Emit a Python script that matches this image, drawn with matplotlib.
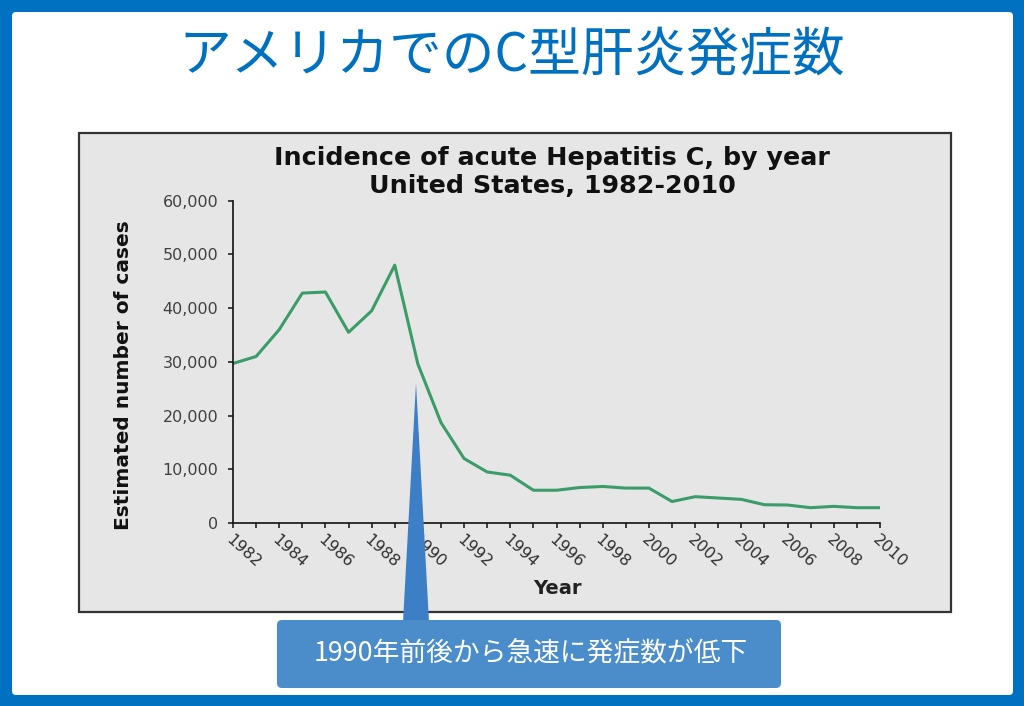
import matplotlib
matplotlib.use("Agg")
import matplotlib.pyplot as plt
from matplotlib.patches import Rectangle, FancyBboxPatch, Polygon
from matplotlib.ticker import FuncFormatter

# ---- data ----
years = list(range(1982, 2011))
cases = [29700, 31000, 36000, 42800, 43000, 35500, 39500, 48000, 29600, 18700,
         12000, 9500, 8900, 6100, 6100, 6600, 6800, 6500, 6500, 4000,
         4900, 4650, 4400, 3400, 3350, 2850, 3100, 2850, 2850]
y_ticks = [0, 10000, 20000, 30000, 40000, 50000, 60000]
slide_title = "アメリカでのC型肝炎発症数"
chart_title = "Incidence of acute Hepatitis C, by year\nUnited States, 1982-2010"
x_label = "Year"
y_label = "Estimated number of cases"
callout = "1990年前後から急速に発症数が低下"

W, H = 1024, 706
BLUE = "#0070c0"
fig = plt.figure(figsize=(W / 100, H / 100), dpi=100)

# background overlay in pixel coordinates
bg = fig.add_axes([0, 0, 1, 1], zorder=0)
bg.set_xlim(0, W)
bg.set_ylim(H, 0)
bg.axis("off")
bg.add_patch(Rectangle((0, 0), W, H, facecolor=BLUE, edgecolor="none"))
bg.add_patch(FancyBboxPatch((12, 12), 1001, 683, boxstyle="round,pad=0,rounding_size=4",
                            facecolor="white", edgecolor="none"))
bg.add_patch(Rectangle((79, 133), 872, 479, facecolor="#e6e6e6", edgecolor="#333333", linewidth=1.6))
bg.text(512, 55, slide_title, color=BLUE, fontsize=38, ha="center", va="center",
        family=["Noto Sans CJK JP", "DejaVu Sans"])
bg.text(552, 172, chart_title, color="#111111", fontsize=18.3, fontweight="bold",
        ha="center", va="center", linespacing=1.25, family="DejaVu Sans")

# chart axes
left, right = 233 / W, 880 / W
bottom, top = (H - 523) / H, (H - 200.7) / H
ax = fig.add_axes([left, bottom, right - left, top - bottom], zorder=2)
ax.patch.set_alpha(0)
ax.plot(years, cases, color="#3a9c68", linewidth=2.2, solid_joinstyle="round")
ax.set_xlim(1982, 2010)
ax.set_ylim(0, 60000)
ax.set_yticks(y_ticks)
ax.yaxis.set_major_formatter(FuncFormatter(lambda v, p: f"{int(v):,}"))
ax.set_xticks(years)
ax.set_xticklabels([str(y) if y % 2 == 0 else "" for y in years],
                   rotation=-42, ha="left", va="top", rotation_mode="anchor")
for s in ("top", "right"):
    ax.spines[s].set_visible(False)
for s in ("left", "bottom"):
    ax.spines[s].set_linewidth(1.2)
    ax.spines[s].set_color("#111111")
ax.tick_params(axis="y", direction="out", length=3.6, width=1.1, pad=7.0,
               labelsize=11.5, labelcolor="#404040", color="#111111")
ax.tick_params(axis="x", direction="out", length=3.6, width=1.1, pad=3,
               labelsize=11.5, labelcolor="#303030", color="#111111")
ax.set_xlabel(x_label, fontsize=14, fontweight="bold", color="#222222", va="center")
ax.xaxis.set_label_coords(0.5008, -0.2017)
ax.set_ylabel(y_label, fontsize=14.5, fontweight="bold", color="#111111", va="center")
ax.yaxis.set_label_coords(-0.1685, 0.4577)

# callout overlay
ov = fig.add_axes([0, 0, 1, 1], zorder=3)
ov.set_xlim(0, W)
ov.set_ylim(H, 0)
ov.axis("off")
ov.add_patch(Polygon([(416, 383), (403, 622), (429, 622)], closed=True,
                     facecolor="#3d7fc6", edgecolor="none"))
ov.add_patch(FancyBboxPatch((277, 620), 504, 68, boxstyle="round,pad=0,rounding_size=5",
                            facecolor="#4a8dca", edgecolor="none"))
ov.text(531, 654, callout, color="white", fontsize=19.3, ha="center", va="center",
        family=["Noto Sans CJK JP", "DejaVu Sans"])

fig.savefig("out.png", dpi=100)
